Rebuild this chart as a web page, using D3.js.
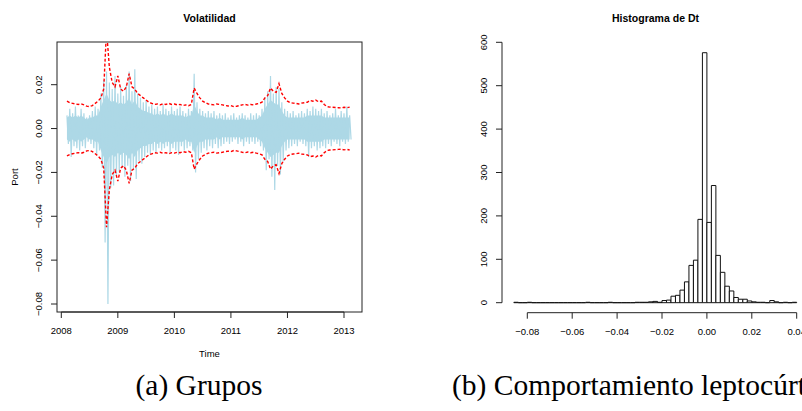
<!DOCTYPE html>
<html>
<head>
<meta charset="utf-8">
<script src="https://cdn.jsdelivr.net/npm/d3@7"></script>
<style>
body { margin: 0; background: #fff; }
svg { display: block; }
</style>
</head>
<body>
<svg id="fig" width="802" height="411"></svg>
<script>
const startYear = 2008.1
const step = 0.05
const portHigh = [0.006,0.009,0.007,0.010,0.006,0.009,0.007,0.005,0.006,0.008,
	0.010,0.009,0.016,0.022,0.026,0.021,0.018,0.024,0.016,0.019,
	0.015,0.020,0.026,0.017,0.027,0.016,0.014,0.012,0.013,0.010,
	0.011,0.009,0.010,0.008,0.011,0.009,0.008,0.010,0.008,0.009,
	0.010,0.008,0.007,0.009,0.008,0.025,0.012,0.009,0.008,0.007,
	0.008,0.007,0.008,0.006,0.007,0.006,0.007,0.005,0.006,0.007,
	0.005,0.006,0.007,0.006,0.005,0.007,0.006,0.007,0.006,0.009,
	0.014,0.017,0.024,0.016,0.019,0.018,0.012,0.009,0.008,0.007,
	0.008,0.006,0.007,0.008,0.007,0.009,0.008,0.010,0.009,0.008,
	0.009,0.007,0.008,0.006,0.007,0.009,0.006,0.008,0.007,0.010,0.006]
const portLow = [-0.007,-0.013,-0.008,-0.009,-0.010,-0.008,-0.009,-0.006,-0.007,-0.009,
	-0.012,-0.010,-0.018,-0.052,-0.080,-0.027,-0.026,-0.022,-0.020,-0.018,
	-0.022,-0.017,-0.024,-0.019,-0.023,-0.015,-0.016,-0.013,-0.011,-0.012,
	-0.010,-0.011,-0.009,-0.010,-0.009,-0.008,-0.011,-0.009,-0.010,-0.012,
	-0.008,-0.010,-0.009,-0.008,-0.010,-0.020,-0.014,-0.011,-0.009,-0.010,
	-0.008,-0.009,-0.007,-0.009,-0.008,-0.007,-0.006,-0.007,-0.006,-0.005,
	-0.007,-0.006,-0.008,-0.006,-0.007,-0.006,-0.007,-0.006,-0.008,-0.010,
	-0.019,-0.014,-0.022,-0.028,-0.017,-0.021,-0.015,-0.010,-0.009,-0.008,
	-0.007,-0.008,-0.006,-0.007,-0.008,-0.013,-0.009,-0.008,-0.010,-0.009,
	-0.008,-0.009,-0.007,-0.008,-0.006,-0.007,-0.008,-0.006,-0.007,-0.006,-0.005]
// half width of the solid core of the series
const portBody = [0.005,0.006,0.005,0.006,0.005,0.006,0.005,0.004,0.005,0.005,
	0.006,0.006,0.010,0.013,0.016,0.013,0.012,0.013,0.011,0.012,
	0.011,0.012,0.014,0.011,0.013,0.010,0.009,0.008,0.008,0.007,
	0.007,0.006,0.007,0.006,0.007,0.006,0.006,0.007,0.006,0.006,
	0.006,0.006,0.005,0.006,0.006,0.011,0.008,0.006,0.006,0.005,
	0.005,0.005,0.005,0.004,0.005,0.004,0.004,0.004,0.004,0.004,
	0.004,0.004,0.005,0.004,0.004,0.004,0.004,0.004,0.005,0.006,
	0.009,0.011,0.013,0.012,0.011,0.011,0.008,0.006,0.005,0.005,
	0.005,0.005,0.005,0.005,0.005,0.006,0.006,0.006,0.006,0.006,
	0.006,0.005,0.005,0.005,0.005,0.005,0.005,0.005,0.005,0.005,0.005]
const volBand = [0.0125,0.0118,0.0115,0.0112,0.0110,0.0113,0.0108,0.0102,0.0100,0.0105,
	0.0115,0.0125,0.0140,0.0180,0.0450,0.0280,0.0210,0.0190,0.0240,0.0180,
	0.0170,0.0190,0.0250,0.0190,0.0180,0.0160,0.0150,0.0140,0.0130,0.0120,
	0.0115,0.0110,0.0112,0.0108,0.0113,0.0110,0.0115,0.0110,0.0112,0.0108,
	0.0110,0.0105,0.0108,0.0104,0.0110,0.0185,0.0160,0.0140,0.0125,0.0118,
	0.0112,0.0110,0.0108,0.0112,0.0110,0.0108,0.0105,0.0103,0.0105,0.0100,
	0.0102,0.0105,0.0108,0.0110,0.0107,0.0110,0.0108,0.0112,0.0115,0.0120,
	0.0140,0.0150,0.0185,0.0170,0.0165,0.0205,0.0160,0.0140,0.0125,0.0118,
	0.0116,0.0115,0.0112,0.0116,0.0118,0.0120,0.0128,0.0125,0.0130,0.0122,
	0.0125,0.0110,0.0100,0.0098,0.0097,0.0096,0.0095,0.0094,0.0097,0.0095,0.0098]

const yearTicks = [2008, 2009, 2010, 2011, 2012, 2013]
const portTicks = [-0.08, -0.06, -0.04, -0.02, 0, 0.02]

// histogram of Dt, bins of 0.002 starting at -0.086
const binStart = -0.086
const binWidth = 0.002
const counts = [1,0,0,1,0,0,0,0,0,0,
	0,0,0,0,0,0,1,0,0,0,
	0,1,0,0,0,0,0,1,1,1,
	2,3,1,5,6,15,17,29,48,86,
	98,192,576,185,270,109,70,38,27,12,
	8,8,4,2,1,1,0,5,2,0,
	1,0,1]
const histXTicks = [-0.08, -0.06, -0.04, -0.02, 0, 0.02, 0.04]
const countTicks = [0, 100, 200, 300, 400, 500, 600]

const font = "'Liberation Sans', Arial, sans-serif"
const svg = d3.select("#fig")
const fmt = d3.format(".2f")

// ---------- left panel: Volatilidad ----------
const box = {x0: 57, x1: 362, y0: 42, y1: 312}
const x = d3.scaleLinear().domain([2008, 2013]).range([61.3, 344])
const y = d3.scaleLinear().domain([-0.08, 0.02]).range([304, 84.7])

svg.append("clipPath").attr("id", "clipL")
	.append("rect")
	.attr("x", box.x0).attr("y", box.y0)
	.attr("width", box.x1 - box.x0).attr("height", box.y1 - box.y0)

const times = portHigh.map((d, i) => startYear + i * step)

// dense series drawn as peak / trough pairs
var pts = []
for (var i = 0; i < times.length; i++) {
	pts.push([times[i], portHigh[i]])
	pts.push([times[i] + step / 2, portLow[i]])
}

const plotL = svg.append("g").attr("clip-path", "url(#clipL)")

// solid core of the series, then the spikes on top
plotL.append("path")
	.datum(portBody)
	.attr("fill", "#add8e6")
	.attr("d", d3.area()
		.x((d, i) => x(times[i]))
		.y0(d => y(-d))
		.y1(d => y(d)))

plotL.append("path")
	.datum(pts)
	.attr("fill", "none")
	.attr("stroke", "#add8e6")
	.attr("stroke-width", 1.2)
	.attr("d", d3.line().x(d => x(d[0])).y(d => y(d[1])))

plotL.append("path")
	.datum(volBand)
	.attr("fill", "none")
	.attr("stroke", "red")
	.attr("stroke-width", 1.4)
	.attr("stroke-dasharray", "3,2")
	.attr("d", d3.line().x((d, i) => x(times[i])).y(d => y(d)))
plotL.append("path")
	.datum(volBand)
	.attr("fill", "none")
	.attr("stroke", "red")
	.attr("stroke-width", 1.4)
	.attr("stroke-dasharray", "3,2")
	.attr("d", d3.line().x((d, i) => x(times[i])).y(d => y(-d)))

svg.append("rect")
	.attr("x", box.x0).attr("y", box.y0)
	.attr("width", box.x1 - box.x0).attr("height", box.y1 - box.y0)
	.attr("fill", "none").attr("stroke", "#222").attr("stroke-width", 1)

// x axis
const gx = svg.append("g").attr("transform", `translate(0,${box.y1})`)
gx.append("line")
	.attr("x1", x(2008)).attr("x2", x(2013))
	.attr("stroke", "#222")
gx.selectAll("line.tick").data(yearTicks).join("line")
	.attr("class", "tick")
	.attr("x1", d => x(d)).attr("x2", d => x(d))
	.attr("y1", 0).attr("y2", 6)
	.attr("stroke", "#222")
gx.selectAll("text").data(yearTicks).join("text")
	.attr("x", d => x(d)).attr("y", 22)
	.attr("text-anchor", "middle")
	.attr("font-family", font).attr("font-size", 9.5)
	.text(d => d)

// y axis
const gy = svg.append("g").attr("transform", `translate(${box.x0},0)`)
gy.selectAll("line").data(portTicks).join("line")
	.attr("x1", -6).attr("x2", 0)
	.attr("y1", d => y(d)).attr("y2", d => y(d))
	.attr("stroke", "#222")
gy.selectAll("text").data(portTicks).join("text")
	.attr("transform", d => `translate(-15,${y(d)}) rotate(-90)`)
	.attr("text-anchor", "middle")
	.attr("font-family", font).attr("font-size", 9.5)
	.text(d => fmt(d))

svg.append("text")
	.attr("x", (box.x0 + box.x1) / 2).attr("y", 22)
	.attr("text-anchor", "middle")
	.attr("font-family", font).attr("font-size", 10.5).attr("font-weight", "bold")
	.text("Volatilidad")
svg.append("text")
	.attr("x", (box.x0 + box.x1) / 2).attr("y", 357)
	.attr("text-anchor", "middle")
	.attr("font-family", font).attr("font-size", 9.5)
	.text("Time")
svg.append("text")
	.attr("transform", `translate(18,${(box.y0 + box.y1) / 2}) rotate(-90)`)
	.attr("text-anchor", "middle")
	.attr("font-family", font).attr("font-size", 9.5)
	.text("Port")

// ---------- right panel: Histograma de Dt ----------
const hx = d3.scaleLinear().domain([-0.08, 0.04]).range([527.3, 796.7])
const hy = d3.scaleLinear().domain([0, 600]).range([302.7, 42.3])

const bins = counts.map((c, i) => ({lo: binStart + i * binWidth, hi: binStart + (i + 1) * binWidth, n: c}))

// paths instead of rects so empty bins still show their outline
svg.append("g").selectAll("path").data(bins).join("path")
	.attr("d", d => `M${hx(d.lo)},${hy(0)}V${hy(d.n)}H${hx(d.hi)}V${hy(0)}Z`)
	.attr("fill", "white")
	.attr("stroke", "#111")
	.attr("stroke-width", 1)

const hgx = svg.append("g").attr("transform", "translate(0,312.7)")
hgx.append("line")
	.attr("x1", hx(-0.08)).attr("x2", hx(0.04))
	.attr("stroke", "#222")
hgx.selectAll("line.tick").data(histXTicks).join("line")
	.attr("class", "tick")
	.attr("x1", d => hx(d)).attr("x2", d => hx(d))
	.attr("y1", 0).attr("y2", 6)
	.attr("stroke", "#222")
hgx.selectAll("text").data(histXTicks).join("text")
	.attr("x", d => hx(d)).attr("y", 22)
	.attr("text-anchor", "middle")
	.attr("font-family", font).attr("font-size", 9.5)
	.text(d => fmt(d))

const hgy = svg.append("g").attr("transform", "translate(502,0)")
hgy.append("line")
	.attr("y1", hy(0)).attr("y2", hy(600))
	.attr("stroke", "#222")
hgy.selectAll("line.tick").data(countTicks).join("line")
	.attr("class", "tick")
	.attr("x1", -6).attr("x2", 0)
	.attr("y1", d => hy(d)).attr("y2", d => hy(d))
	.attr("stroke", "#222")
hgy.selectAll("text").data(countTicks).join("text")
	.attr("transform", d => `translate(-15,${hy(d)}) rotate(-90)`)
	.attr("text-anchor", "middle")
	.attr("font-family", font).attr("font-size", 9.5)
	.text(d => d)

svg.append("text")
	.attr("x", 655.5).attr("y", 22)
	.attr("text-anchor", "middle")
	.attr("font-family", font).attr("font-size", 10.5).attr("font-weight", "bold")
	.text("Histograma de Dt")

// ---------- captions ----------
const serif = "'Liberation Serif', 'DejaVu Serif', serif"
svg.append("text")
	.attr("x", 199).attr("y", 395)
	.attr("text-anchor", "middle")
	.attr("font-family", serif).attr("font-size", 29.5)
	.text("(a) Grupos")
svg.append("text")
	.attr("x", 452).attr("y", 395)
	.attr("font-family", serif).attr("font-size", 29.5)
	.text("(b) Comportamiento leptocúrtico")
</script>
</body>
</html>
